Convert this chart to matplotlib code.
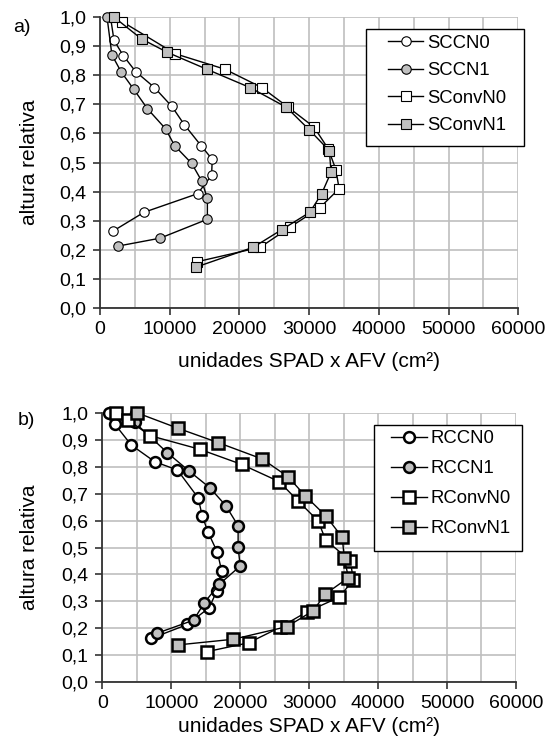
import matplotlib
matplotlib.use("Agg")
import matplotlib.pyplot as plt
from matplotlib.patches import Rectangle
from matplotlib.ticker import MultipleLocator, FuncFormatter

plt.rcParams["font.family"] = ["Liberation Sans", "DejaVu Sans"]

# panel a) -- (x = unidades SPAD x AFV, y = altura relativa)
sccn0_x = [1500, 2000, 3350, 5100, 7800, 10300, 12100, 14500, 16100, 16000, 14000, 6300, 1900]
sccn0_y = [1.0, 0.92, 0.867, 0.813, 0.758, 0.693, 0.63, 0.558, 0.511, 0.456, 0.393, 0.329, 0.265]

sccn1_x = [1000, 1700, 3000, 4800, 6800, 9400, 10700, 13150, 14600, 15400, 15400, 8600, 2600]
sccn1_y = [1.0, 0.870, 0.813, 0.753, 0.685, 0.616, 0.558, 0.497, 0.436, 0.377, 0.305, 0.240, 0.213]

sconvn0_x = [3200, 10800, 17900, 23200, 27000, 30700, 32750, 33850, 34300, 31500, 27200, 23000, 13900]
sconvn0_y = [0.984, 0.874, 0.821, 0.758, 0.690, 0.622, 0.547, 0.475, 0.410, 0.344, 0.277, 0.209, 0.159]

sconvn1_x = [2000, 5950, 9650, 15300, 21500, 26750, 30000, 32900, 33150, 31800, 30100, 26050, 22000, 13700]
sconvn1_y = [1.0, 0.925, 0.879, 0.821, 0.758, 0.690, 0.613, 0.541, 0.467, 0.393, 0.329, 0.269, 0.209, 0.140]

# panel b)
rccn0_x = [950, 1800, 4200, 7600, 10900, 13900, 14500, 15350, 16700, 17300, 16600, 15500, 12350, 7100]
rccn0_y = [1.0, 0.959, 0.881, 0.819, 0.788, 0.685, 0.617, 0.556, 0.482, 0.414, 0.338, 0.276, 0.214, 0.162]

rccn1_x = [4950, 4700, 9450, 12600, 15600, 17900, 19700, 19700, 20000, 16950, 14800, 13250, 7900]
rccn1_y = [1.0, 0.965, 0.852, 0.784, 0.722, 0.656, 0.581, 0.501, 0.431, 0.363, 0.295, 0.230, 0.181]

rconvn0_x = [2050, 3750, 6900, 14150, 20200, 25650, 28400, 31300, 32400, 36000, 36400, 34350, 29700, 25750, 21250, 15200]
rconvn0_y = [1.0, 0.974, 0.916, 0.865, 0.809, 0.745, 0.673, 0.599, 0.528, 0.450, 0.379, 0.315, 0.261, 0.203, 0.146, 0.113]

rconvn1_x = [5100, 11000, 16800, 23200, 26950, 29400, 32400, 34800, 35100, 35700, 32300, 30600, 26800, 19000, 11000]
rconvn1_y = [1.0, 0.943, 0.890, 0.829, 0.763, 0.693, 0.618, 0.538, 0.460, 0.388, 0.326, 0.265, 0.206, 0.159, 0.138]

GRAY = "#c0c0c0"
comma = FuncFormatter(lambda v, p: f"{v:.1f}".replace(".", ","))

fig = plt.figure(figsize=(5.59, 7.44), dpi=100)
ax_a = fig.add_axes([0.179, 0.586, 0.748, 0.391])
ax_b = fig.add_axes([0.183, 0.0833, 0.740, 0.3616])


def style_axes(ax, ylab_x, xlab_y):
    ax.set_xlim(0, 60000)
    ax.set_ylim(0, 1.0)
    ax.xaxis.set_major_locator(MultipleLocator(10000))
    ax.xaxis.set_minor_locator(MultipleLocator(5000))
    ax.yaxis.set_major_locator(MultipleLocator(0.1))
    ax.yaxis.set_major_formatter(comma)
    ax.grid(True, which="both", color="#bfbfbf", linewidth=1.2)
    ax.set_axisbelow(True)
    ax.tick_params(which="major", direction="out", length=5, width=1.2,
                   labelsize=14, color="#333333")
    ax.tick_params(axis="x", pad=4)
    ax.tick_params(axis="y", pad=5)
    ax.tick_params(which="minor", length=0)
    for s in ("top", "right"):
        ax.spines[s].set_visible(False)
    for s in ("left", "bottom"):
        ax.spines[s].set_color("#333333")
        ax.spines[s].set_linewidth(1.3)
    ax.set_xlabel("unidades SPAD x AFV (cm²)", fontsize=15)
    ax.set_ylabel("altura relativa", fontsize=15)
    ax.yaxis.set_label_coords(ylab_x, 0.5)
    ax.xaxis.set_label_coords(0.5, xlab_y)


def boxed_legend(ax, anchor, box, spacing):
    leg = ax.legend(loc="upper left", bbox_to_anchor=anchor, fontsize=13.3,
                    frameon=False, handlelength=1.9, borderpad=0,
                    labelspacing=spacing, handletextpad=0.2, borderaxespad=0)
    leg.set_zorder(6)
    x0, y0, x1, y1 = box
    ax.add_patch(Rectangle((x0, y0), x1 - x0, y1 - y0, transform=ax.transAxes,
                           facecolor="white", edgecolor="black", linewidth=1.0,
                           clip_on=False, zorder=5))


# a)
kw = dict(color="black", linewidth=1.0, markeredgecolor="black",
          markeredgewidth=0.8, clip_on=False)
ax_a.plot(sccn0_x, sccn0_y, marker="o", markersize=6.8, markerfacecolor="white", label="SCCN0", **kw)
ax_a.plot(sccn1_x, sccn1_y, marker="o", markersize=6.8, markerfacecolor=GRAY, label="SCCN1", **kw)
ax_a.plot(sconvn0_x, sconvn0_y, marker="s", markersize=7.3, markerfacecolor="white", label="SConvN0", **kw)
ax_a.plot(sconvn1_x, sconvn1_y, marker="s", markersize=7.3, markerfacecolor=GRAY, label="SConvN1", **kw)
style_axes(ax_a, -0.146, -0.15)
boxed_legend(ax_a, (0.689, 0.94), (0.636, 0.557, 1.014, 0.959), 0.57)
fig.text(0.024, 0.963, "a)", fontsize=14, va="center")

# b)
kw = dict(color="black", linewidth=1.0, markeredgecolor="black",
          markeredgewidth=1.8, clip_on=False)
ax_b.plot(rccn0_x, rccn0_y, marker="o", markersize=7.8, markerfacecolor="white", label="RCCN0", **kw)
ax_b.plot(rccn1_x, rccn1_y, marker="o", markersize=7.8, markerfacecolor=GRAY, label="RCCN1", **kw)
ax_b.plot(rconvn0_x, rconvn0_y, marker="s", markersize=8.6, markerfacecolor="white", label="RConvN0", **kw)
ax_b.plot(rconvn1_x, rconvn1_y, marker="s", markersize=8.6, markerfacecolor=GRAY, label="RConvN1", **kw)
style_axes(ax_b, -0.154, -0.13)
boxed_legend(ax_b, (0.699, 0.936), (0.657, 0.487, 1.015, 0.955), 0.7)
fig.text(0.032, 0.435, "b)", fontsize=14, va="center")

fig.savefig("out.png", dpi=100)
